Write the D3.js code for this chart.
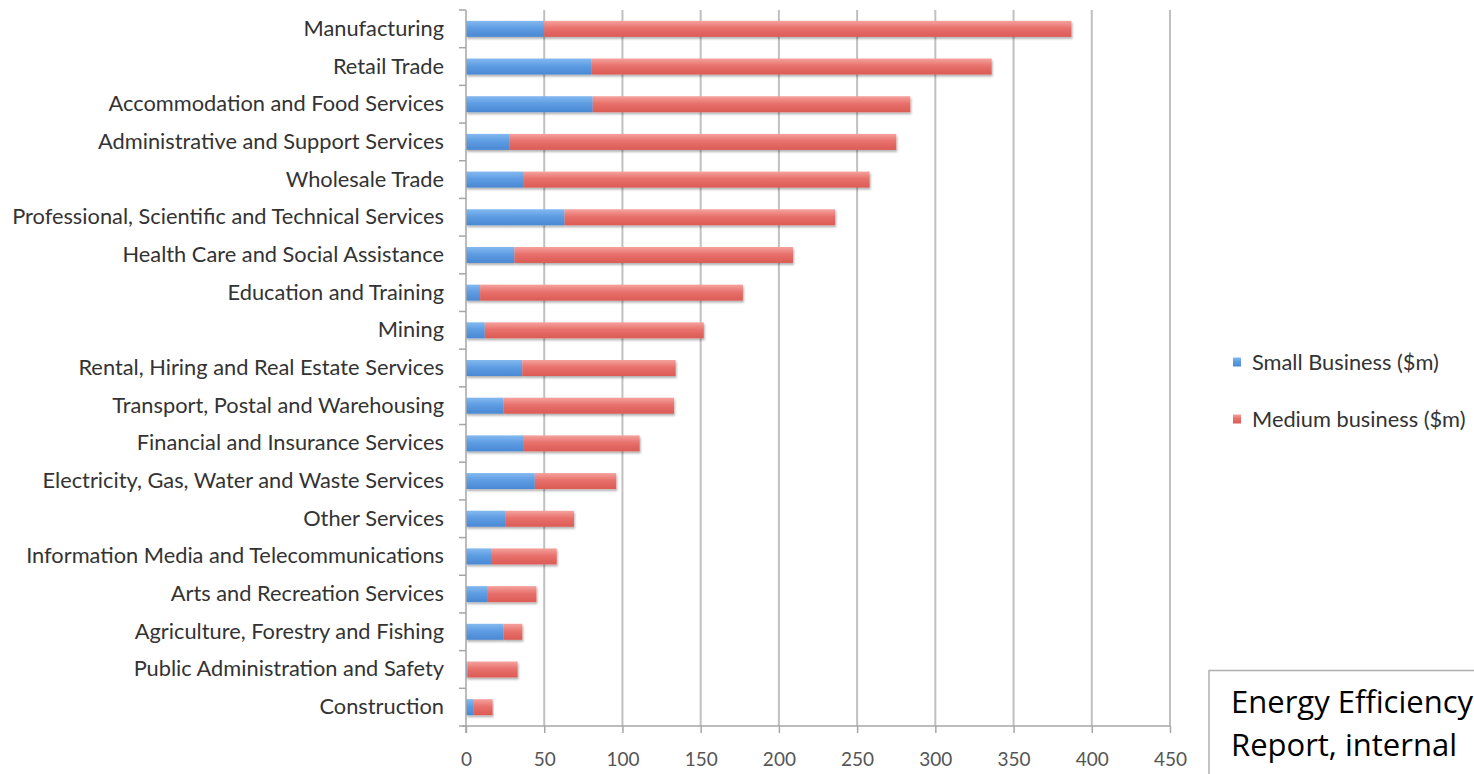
<!DOCTYPE html>
<html lang="en">
<head>
<meta charset="UTF-8">
<title>Small and medium business by industry</title>
<script src="https://cdn.jsdelivr.net/npm/d3@7"></script>
<style>
    body { margin: 0; background: #fff; overflow: hidden; }
    svg { display: block; }
</style>
</head>
<body>
<svg></svg>
<script>
    // DATA
    const industries = [
        "Manufacturing", "Retail Trade", "Accommodation and Food Services",
        "Administrative and Support Services", "Wholesale Trade",
        "Professional, Scientific and Technical Services",
        "Health Care and Social Assistance", "Education and Training", "Mining",
        "Rental, Hiring and Real Estate Services", "Transport, Postal and Warehousing",
        "Financial and Insurance Services", "Electricity, Gas, Water and Waste Services",
        "Other Services", "Information Media and Telecommunications",
        "Arts and Recreation Services", "Agriculture, Forestry and Fishing",
        "Public Administration and Safety", "Construction"
    ];
    const smallBusiness = [50, 80, 81, 28, 37, 63, 31, 9, 12, 36, 24, 37, 44, 25, 16, 14, 24, 1, 5];
    const mediumBusiness = [337, 256, 203, 247, 221, 173, 178, 168, 140, 98, 109, 74, 52, 44, 42, 31, 12, 32, 12];
    const seriesNames = ["Small Business ($m)", "Medium business ($m)"];
    const xTicks = [0, 50, 100, 150, 200, 250, 300, 350, 400, 450];
    const noteLines = ["Energy Efficiency", "Report, internal"];

    // CHART dimensions
    const W = 1474, H = 774;
    const plot = {left: 466, right: 1170, top: 10, bottom: 726};
    const font = "Lato, sans-serif";

    const svg = d3.select("svg").attr("width", W).attr("height", H);

    const defs = svg.append("defs");
    const grads = [
        {id: "gBlue", top: "#84b9f0", mid: "#5e9de3", bot: "#4a88d3"},
        {id: "gRed", top: "#f5a29e", mid: "#e8716c", bot: "#dc5a55"}
    ];
    grads.forEach(g => {
        const lg = defs.append("linearGradient").attr("id", g.id)
            .attr("x1", 0).attr("y1", 0).attr("x2", 0).attr("y2", 1);
        lg.append("stop").attr("offset", "0%").attr("stop-color", g.top);
        lg.append("stop").attr("offset", "45%").attr("stop-color", g.mid);
        lg.append("stop").attr("offset", "100%").attr("stop-color", g.bot);
    });
    defs.append("filter").attr("id", "shadow")
        .attr("x", "-5%").attr("y", "-30%").attr("width", "110%").attr("height", "180%")
        .append("feDropShadow")
            .attr("dx", 1).attr("dy", 2).attr("stdDeviation", 1.3)
            .attr("flood-color", "#000").attr("flood-opacity", 0.3);

    // SCALES
    const x = d3.scaleLinear().domain([0, 450]).range([plot.left, plot.right]);
    const y = d3.scaleBand().domain(industries).range([plot.top, plot.bottom]);
    const barH = 16;

    // GRIDLINES
    svg.append("g").selectAll("line")
        .data(xTicks.slice(1))
        .join("line")
            .attr("x1", d => x(d)).attr("x2", d => x(d))
            .attr("y1", plot.top).attr("y2", plot.bottom)
            .attr("stroke", "#c0c0c0").attr("stroke-width", 2);

    // BARS (stacked: small then medium)
    const stacked = industries.map((name, i) => ({
        name,
        parts: [
            {x0: 0, x1: smallBusiness[i], fill: "url(#gBlue)"},
            {x0: smallBusiness[i], x1: smallBusiness[i] + mediumBusiness[i], fill: "url(#gRed)"}
        ]
    }));

    const rows = svg.append("g").selectAll("g")
        .data(stacked)
        .join("g")
            .attr("transform", d => `translate(0, ${y(d.name) + y.bandwidth() / 2 - barH / 2})`)
            .attr("filter", "url(#shadow)");

    rows.selectAll("rect")
        .data(d => d.parts)
        .join("rect")
            .attr("x", d => x(d.x0))
            .attr("width", d => Math.max(0, x(d.x1) - x(d.x0)))
            .attr("height", barH)
            .attr("fill", d => d.fill);

    // AXES
    const yAxis = d3.axisLeft(y).tickSize(0).tickPadding(22);
    const yg = svg.append("g").attr("transform", `translate(${plot.left},0)`).call(yAxis);
    yg.select(".domain").remove();
    yg.selectAll("text").attr("font-size", 21.8).attr("fill", "#333").attr("font-family", font);

    // left axis line and band-boundary ticks
    const axisColor = "#a6a6a6";
    svg.append("line")
        .attr("x1", plot.left).attr("x2", plot.left)
        .attr("y1", plot.top).attr("y2", plot.bottom + 7)
        .attr("stroke", axisColor).attr("stroke-width", 1.5);
    svg.append("g").selectAll("line")
        .data(d3.range(industries.length + 1))
        .join("line")
            .attr("x1", plot.left - 7).attr("x2", plot.left)
            .attr("y1", i => plot.top + i * y.step()).attr("y2", i => plot.top + i * y.step())
            .attr("stroke", axisColor).attr("stroke-width", 1.5);

    const xAxis = d3.axisBottom(x).tickValues(xTicks).tickSize(7).tickPadding(20).tickSizeOuter(0);
    const xg = svg.append("g").attr("transform", `translate(0,${plot.bottom})`).call(xAxis);
    xg.select(".domain").attr("stroke", axisColor).attr("stroke-width", 1.5)
        .attr("d", `M${plot.left - 4},0H${plot.right}`);
    xg.selectAll(".tick line").attr("stroke", axisColor).attr("stroke-width", 1.5);
    xg.selectAll("text").attr("font-size", 19).attr("fill", "#555").attr("font-family", font);

    // LEGEND
    const legend = svg.append("g").selectAll("g")
        .data(seriesNames)
        .join("g")
            .attr("transform", (d, i) => `translate(1233, ${362 + i * 57})`);
    legend.append("rect")
        .attr("x", 0).attr("y", -4.5).attr("width", 8).attr("height", 9)
        .attr("fill", (d, i) => i === 0 ? "url(#gBlue)" : "url(#gRed)");
    legend.append("text")
        .attr("x", 19).attr("dy", "0.36em")
        .attr("font-size", 21.8).attr("fill", "#333").attr("font-family", font)
        .text(d => d);

    // NOTE BOX
    const note = svg.append("g");
    note.append("rect")
        .attr("x", 1209).attr("y", 670.5).attr("width", 300).attr("height", 140)
        .attr("fill", "#fff").attr("stroke", "#b0b0b0").attr("stroke-width", 1.5);
    note.selectAll("text")
        .data(noteLines)
        .join("text")
            .attr("x", 1231).attr("y", (d, i) => 713 + i * 43)
            .attr("font-size", 31).attr("fill", "#000")
            .attr("font-family", "'Open Sans', sans-serif")
            .text(d => d);
</script>
</body>
</html>
